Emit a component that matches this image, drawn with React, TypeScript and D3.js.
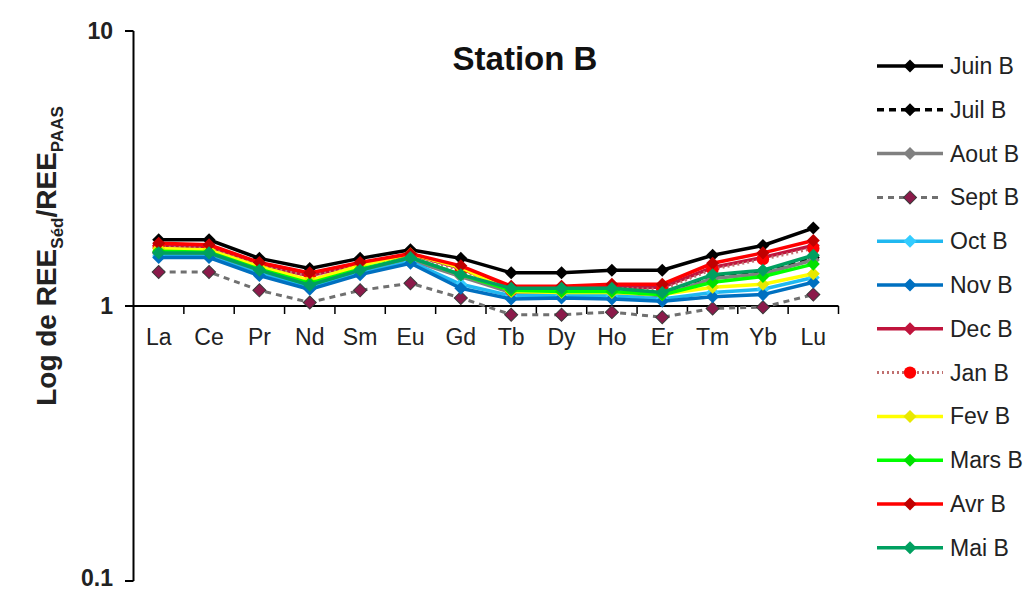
import React from "react";
import * as d3 from "d3";

const categories = ["La", "Ce", "Pr", "Nd", "Sm", "Eu", "Gd", "Tb", "Dy", "Ho", "Er", "Tm", "Yb", "Lu"];
const yTicks = [10, 1, 0.1];
const yTickLabels = ["10", "1", "0.1"];

const juin = [1.74, 1.74, 1.49, 1.37, 1.49, 1.60, 1.49, 1.32, 1.32, 1.35, 1.35, 1.53, 1.66, 1.92];
const juil = [1.57, 1.56, 1.35, 1.19, 1.35, 1.49, 1.29, 1.13, 1.13, 1.14, 1.10, 1.27, 1.34, 1.50];
const aout = [1.55, 1.54, 1.33, 1.18, 1.33, 1.47, 1.28, 1.12, 1.12, 1.12, 1.09, 1.26, 1.31, 1.47];
const sept = [1.33, 1.33, 1.14, 1.03, 1.14, 1.21, 1.07, 0.93, 0.93, 0.95, 0.91, 0.98, 0.99, 1.10];
const oct = [1.52, 1.51, 1.31, 1.16, 1.31, 1.45, 1.20, 1.09, 1.09, 1.09, 1.06, 1.12, 1.15, 1.27];
const nov = [1.50, 1.50, 1.29, 1.15, 1.30, 1.43, 1.16, 1.06, 1.07, 1.06, 1.04, 1.08, 1.10, 1.22];
const dec = [1.66, 1.64, 1.41, 1.29, 1.42, 1.54, 1.37, 1.15, 1.15, 1.17, 1.17, 1.38, 1.50, 1.66];
const jan = [1.64, 1.62, 1.40, 1.28, 1.41, 1.52, 1.35, 1.14, 1.14, 1.16, 1.15, 1.36, 1.48, 1.62];
const fev = [1.62, 1.60, 1.39, 1.24, 1.40, 1.55, 1.38, 1.13, 1.12, 1.12, 1.10, 1.17, 1.20, 1.31];
const mars = [1.58, 1.57, 1.36, 1.21, 1.36, 1.50, 1.30, 1.14, 1.13, 1.13, 1.10, 1.22, 1.28, 1.42];
const avr = [1.69, 1.67, 1.44, 1.32, 1.44, 1.55, 1.40, 1.18, 1.18, 1.20, 1.20, 1.43, 1.56, 1.73];
const mai = [1.56, 1.56, 1.35, 1.19, 1.35, 1.50, 1.30, 1.16, 1.16, 1.16, 1.12, 1.30, 1.35, 1.53];

const seriesNames = ["Juin B", "Juil B", "Aout B", "Sept B", "Oct B", "Nov B", "Dec B", "Jan B", "Fev B", "Mars B", "Avr B", "Mai B"];
const seriesValues = [juin, juil, aout, sept, oct, nov, dec, jan, fev, mars, avr, mai];

type Style = { stroke: string; dash?: string; width: number; marker: string; markerStroke?: string; shape: "diamond" | "circle" };
const styles: Style[] = [
  { stroke: "#000000", width: 3.5, marker: "#000000", shape: "diamond" },
  { stroke: "#000000", dash: "7,5", width: 3.5, marker: "#000000", shape: "diamond" },
  { stroke: "#808080", width: 3.5, marker: "#808080", shape: "diamond" },
  { stroke: "#707070", dash: "6,5", width: 3, marker: "#8B1A4A", markerStroke: "#3a3a3a", shape: "diamond" },
  { stroke: "#20B8F0", width: 3.5, marker: "#33CCFF", shape: "diamond" },
  { stroke: "#0070C0", width: 3.5, marker: "#0070C0", shape: "diamond" },
  { stroke: "#C0143C", width: 3.5, marker: "#C0143C", shape: "diamond" },
  { stroke: "#C07070", dash: "2,3", width: 3, marker: "#FF0000", shape: "circle" },
  { stroke: "#FFFF00", width: 3.5, marker: "#E8E800", shape: "diamond" },
  { stroke: "#00FF00", width: 3.5, marker: "#00E000", shape: "diamond" },
  { stroke: "#FF0000", width: 3.5, marker: "#C00000", shape: "diamond" },
  { stroke: "#00A060", width: 3.5, marker: "#00A060", shape: "diamond" },
];

const FONT = "'Liberation Sans', Arial, sans-serif";

export default function App() {
  const W = 1036, H = 591;
  const x = d3.scaleBand<string>().domain(categories).range([133.5, 838.5]).padding(0);
  const cx = (c: string) => (x(c) as number) + x.bandwidth() / 2;
  const y = d3.scaleLog().domain([0.1, 10]).range([581, 31]);
  const line = d3.line<number>().x((_, i) => cx(categories[i])).y((v) => y(v));
  const diamond = d3.symbol().type(d3.symbolSquare).size(85)();
  const circle = d3.symbol().type(d3.symbolCircle).size(120)();

  const legendY = (i: number) => 66 + i * 43.8;
  const marker = (s: Style, tx: number, ty: number, key: string) => (
    <path
      key={key}
      d={s.shape === "circle" ? (circle as string) : (diamond as string)}
      transform={`translate(${tx},${ty})${s.shape === "diamond" ? " rotate(45)" : ""}`}
      fill={s.marker}
      stroke={s.markerStroke ?? "none"}
      strokeWidth={s.markerStroke ? 1 : 0}
    />
  );

  const boundaries = [...categories.map((c) => x(c) as number), x.range()[1]];

  return (
    <svg width={W} height={H} style={{ position: "absolute", left: 0, top: 0, background: "#fff" }} fontFamily={FONT}>
      <rect width={W} height={H} fill="#fff" />
      <text x={525} y={70} textAnchor="middle" fontSize={33} fontWeight="bold" fill="#111">Station B</text>
      <text transform="translate(56,256) rotate(-90)" textAnchor="middle" fontSize={28} fontWeight="bold" fill="#222">
        Log de REE<tspan fontSize={17} dy={7}>Séd</tspan><tspan dy={-7}>/REE</tspan><tspan fontSize={17} dy={7}>PAAS</tspan>
      </text>
      <line x1={133.5} x2={133.5} y1={y(10)} y2={y(0.1)} stroke="#000" strokeWidth={2} />
      {yTicks.map((t, i) => (
        <g key={t}>
          <line x1={125} x2={133.5} y1={y(t)} y2={y(t)} stroke="#000" strokeWidth={2} />
          <text x={113} y={t === 0.1 ? y(t) - 3 : y(t)} dy="0.33em" textAnchor="end" fontSize={23} fontWeight="bold" fill="#222">{yTickLabels[i]}</text>
        </g>
      ))}
      <line x1={133.5} x2={x.range()[1]} y1={y(1)} y2={y(1)} stroke="#000" strokeWidth={2} />
      {boundaries.slice(1).map((b, i) => (
        <line key={i} x1={b} x2={b} y1={y(1)} y2={y(1) + 8} stroke="#000" strokeWidth={1.5} />
      ))}
      {categories.map((c) => (
        <text key={c} x={cx(c)} y={345} textAnchor="middle" fontSize={23} fill="#222">{c}</text>
      ))}
      {seriesValues.map((vals, si) => {
        const s = styles[si];
        return (
          <g key={seriesNames[si]}>
            <path d={line(vals) as string} fill="none" stroke={s.stroke} strokeWidth={s.width} strokeDasharray={s.dash} />
            {vals.map((v, i) => marker(s, cx(categories[i]), y(v), `${si}-${i}`))}
          </g>
        );
      })}
      {seriesNames.map((n, i) => {
        const s = styles[i];
        const ly = legendY(i);
        return (
          <g key={n}>
            <line x1={877} x2={943} y1={ly} y2={ly} stroke={s.stroke} strokeWidth={s.width} strokeDasharray={s.dash} />
            {marker(s, 910, ly, `leg-${i}`)}
            <text x={950} y={ly} dy="0.35em" fontSize={23} fill="#222">{n}</text>
          </g>
        );
      })}
    </svg>
  );
}
